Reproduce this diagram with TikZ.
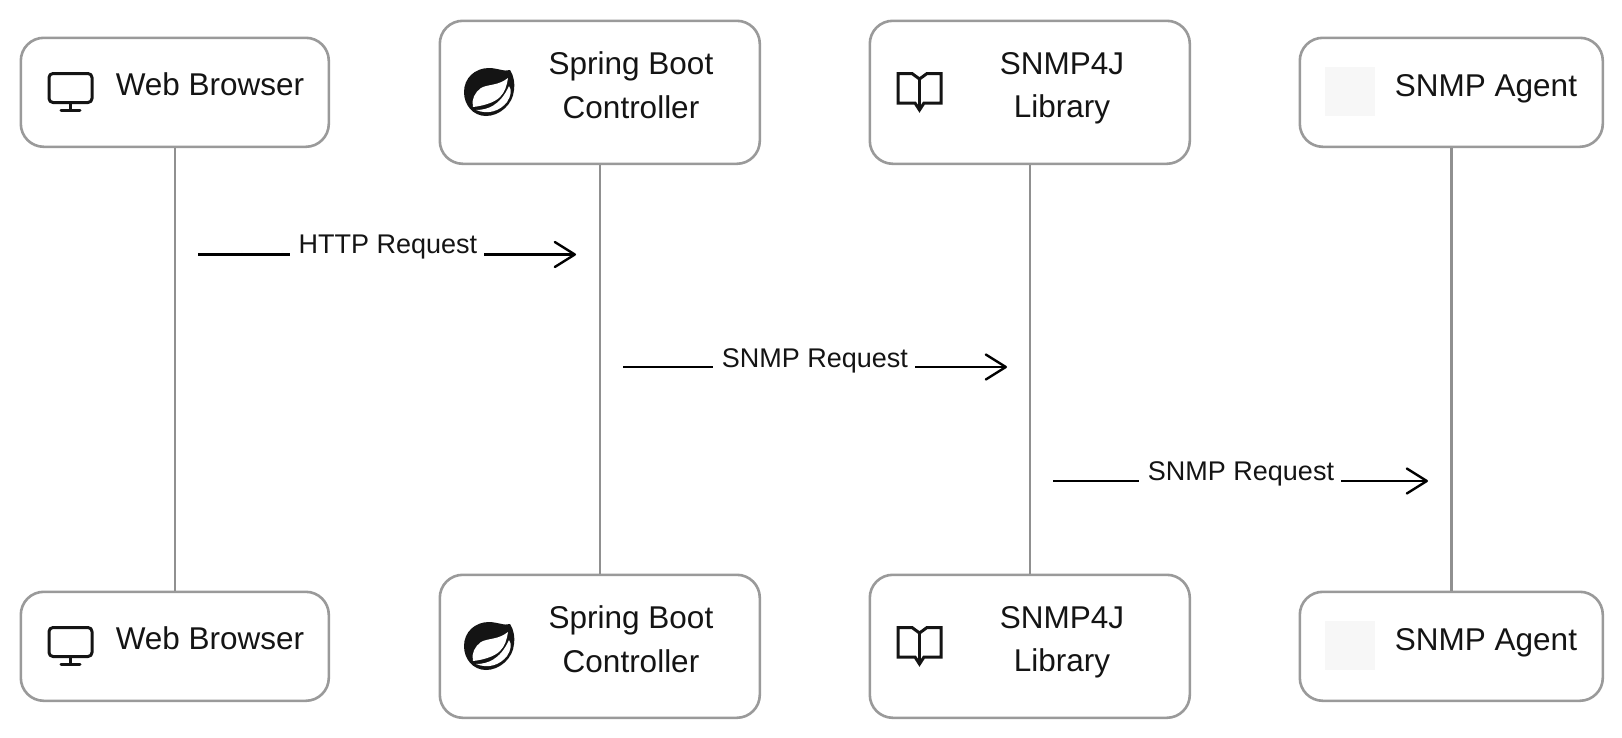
\documentclass[tikz,border=0pt]{standalone}
\usepackage{fontspec}
\setmainfont{Liberation Sans}
\usetikzlibrary{arrows.meta}
\definecolor{boxline}{HTML}{9A9A9A}
\definecolor{lifeline}{HTML}{909090}
\definecolor{ink}{HTML}{141414}
\tikzset{
  actor/.style={draw=boxline,line width=2.6pt,rounded corners=23pt,fill=white,inner sep=0pt,anchor=north west},
  actortext/.style={font=\fontsize{31.5}{43.5}\selectfont,text=ink,align=center,inner sep=0pt},
  msgtext/.style={font=\fontsize{27}{30}\selectfont,text=ink,inner sep=0pt},
  life/.style={draw=lifeline,line width=2.6pt},
  msg/.style={draw=black,line width=2.4pt},
  msgarrow/.style={msg,-{Straight Barb[length=20pt,width=25pt,line width=2.4pt,round]}},
  iconline/.style={draw=ink,line width=3pt,line join=round,line cap=round},
}
\newcommand{\monitoricon}[2]{\begin{scope}[shift={(#1,#2)}]
  \draw[iconline,rounded corners=4pt] (49,73.5) rectangle (92,102.5);
  \draw[iconline] (70.5,102.5) -- (70.5,110) (61,110.5) -- (80,110.5);
\end{scope}}
\newcommand{\bookicon}[2]{\begin{scope}[shift={(#1,#2)}]
  \draw[iconline,line join=miter,line cap=butt] (898,73.5) -- (912,73.5) -- (919.5,79) -- (927,73.5) -- (941,73.5) -- (941,103) -- (924,103) -- (919.5,110) -- (915,103) -- (898,103) -- cycle;
  \draw[iconline,line cap=butt] (919.5,79) -- (919.5,110);
\end{scope}}
\newcommand{\springicon}[2]{\begin{scope}[shift={(#1,#2)}]
  \fill[ink] (510,70) .. controls (514,76) and (515,84) .. (514,90) .. controls (513,104) and (500,116) .. (486,116) .. controls (473,116) and (464,105) .. (464,92) .. controls (464,78) and (475,68) .. (489,68) .. controls (497,68) and (505,72) .. (510,70) -- cycle;
  \fill[white] (508,78) .. controls (498,86) and (488,84) .. (481,88) .. controls (475,92) and (471,100) .. (473,107) .. controls (482,106) and (494,103) .. (500,97) .. controls (505,92) and (507,85) .. (508,78) -- cycle;
  \fill[white] (476,110) .. controls (487,110) and (500,106) .. (509,86) .. controls (512,90) and (511,96) .. (507,102) .. controls (500,111) and (488,115) .. (476,110) -- cycle;
\end{scope}}
\newcommand{\blankicon}[2]{\fill[black!3] (#1+1325,#2+67) rectangle (#1+1375,#2+116);}
\begin{document}
\begin{tikzpicture}[x=1pt,y=-1pt]
\useasboundingbox (0,0) rectangle (1622,737);
\fill[white] (0,0) rectangle (1622,737);

% top boxes
\node[actor,minimum width=308pt,minimum height=109pt] (wbT) at (19.5,36.5) {};
\node[actor,minimum width=320pt,minimum height=143pt] (sbT) at (438.5,19.5) {};
\node[actor,minimum width=320pt,minimum height=143pt] (snT) at (868.5,19.5) {};
\node[actor,minimum width=303pt,minimum height=109pt] (agT) at (1298.5,36.5) {};
% bottom boxes
\node[actor,minimum width=308pt,minimum height=109pt] (wbB) at (19.5,590.5) {};
\node[actor,minimum width=320pt,minimum height=143pt] (sbB) at (438.5,573.5) {};
\node[actor,minimum width=320pt,minimum height=143pt] (snB) at (868.5,573.5) {};
\node[actor,minimum width=303pt,minimum height=109pt] (agB) at (1298.5,590.5) {};

% lifelines
\draw[life] (wbT.south) -- (wbB.north);
\draw[life] (sbT.south) -- (sbB.north);
\draw[life] (snT.south) -- (snB.north);
\draw[life] (agT.south) -- (agB.north);

% icons
\monitoricon{0}{0}\monitoricon{0}{554}
\springicon{0}{0}\springicon{0}{554}
\bookicon{0}{0}\bookicon{0}{554}
\blankicon{0}{0}\blankicon{0}{554}

% labels
\node[actortext] (wbTt) at (210,84) {Web Browser};
\node[actortext] (sbTt) at (631,85) {Spring Boot\\Controller};
\node[actortext] (snTt) at (1062,88.5) {SNMP4J\\Library};
\node[actortext] (agTt) at (1486,88.5) {SNMP Agent};
\node[actortext] (wbBt) at (210,638) {Web Browser};
\node[actortext] (sbBt) at (631,639) {Spring Boot\\Controller};
\node[actortext] (snBt) at (1062,642.5) {SNMP4J\\Library};
\node[actortext] (agBt) at (1486,642.5) {SNMP Agent};

% messages
\coordinate (m1a) at (198,254.5); \coordinate (m1b) at (576,254.5);
\coordinate (m2a) at (623,367);   \coordinate (m2b) at (1007,367);
\coordinate (m3a) at (1053,481);  \coordinate (m3b) at (1428,481);
\node[msgtext] (m1t) at (388,247) {HTTP Request};
\node[msgtext] (m2t) at (815,361) {SNMP Request};
\node[msgtext] (m3t) at (1241,474) {SNMP Request};
\draw[msg] (m1a) -- ([xshift=-9pt]m1t.west |- m1a);
\draw[msgarrow] ([xshift=7pt]m1t.east |- m1b) -- (m1b);
\draw[msg] (m2a) -- ([xshift=-9pt]m2t.west |- m2a);
\draw[msgarrow] ([xshift=7pt]m2t.east |- m2b) -- (m2b);
\draw[msg] (m3a) -- ([xshift=-9pt]m3t.west |- m3a);
\draw[msgarrow] ([xshift=7pt]m3t.east |- m3b) -- (m3b);
\end{tikzpicture}
\end{document}
